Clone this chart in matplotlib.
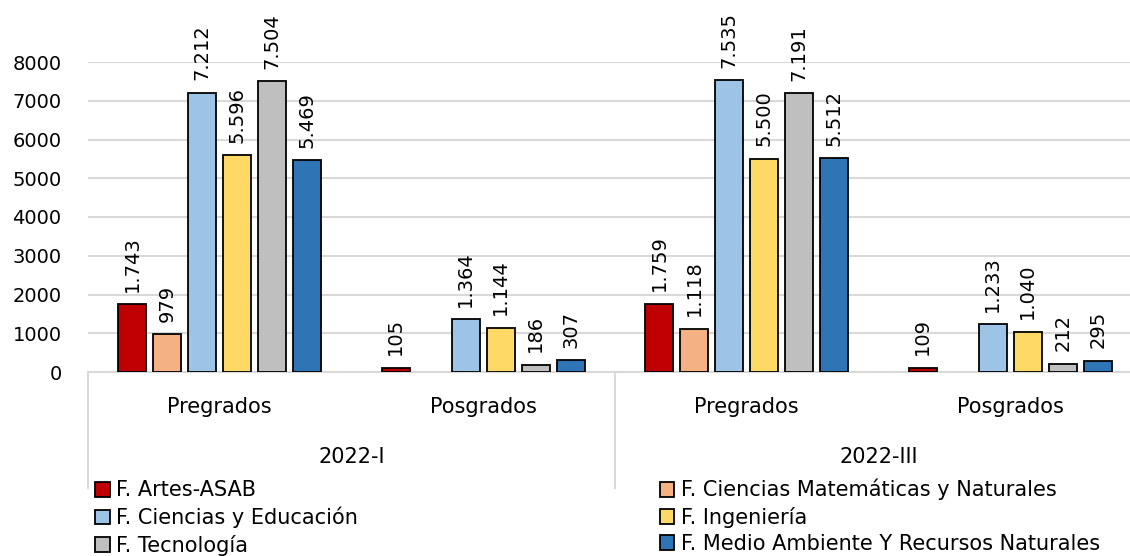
import matplotlib
matplotlib.use("Agg")
import matplotlib.pyplot as plt
from matplotlib.patches import Patch
import numpy as np

plt.rcParams['font.family'] = ['DejaVu Sans']

# ---- data ----
groups = ["Pregrados", "Posgrados", "Pregrados", "Posgrados"]
periods = ["2022-I", "2022-III"]
series_names = ["F. Artes-ASAB", "F. Ciencias Matemáticas y Naturales",
                "F. Ciencias y Educación", "F. Ingeniería",
                "F. Tecnología", "F. Medio Ambiente Y Recursos Naturales"]
artes = [1743, 105, 1759, 109]
ciencias_mat = [979, None, 1118, None]
ciencias_edu = [7212, 1364, 7535, 1233]
ingenieria = [5596, 1144, 5500, 1040]
tecnologia = [7504, 186, 7191, 212]
medio_amb = [5469, 307, 5512, 295]
values = [artes, ciencias_mat, ciencias_edu, ingenieria, tecnologia, medio_amb]
colors = ["#C00000", "#F4B183", "#9DC3E6", "#FFD966", "#BFBFBF", "#2E75B6"]
yticks = [0, 1000, 2000, 3000, 4000, 5000, 6000, 7000, 8000]

W, H = 1130, 556
fig = plt.figure(figsize=(W / 100, H / 100), dpi=100)
ax = fig.add_axes([88 / W, (H - 372) / H, 1054 / W, 310 / H])

x = np.arange(len(groups))
slot = 0.133
bw = 0.106
grid_c = "#D9D9D9"

for i, (vals, c) in enumerate(zip(values, colors)):
    off = (i - 2.5) * slot
    for xi, v in zip(x, vals):
        if v is None:
            continue
        ax.bar(xi + off, v, width=bw, color=c, edgecolor="black", linewidth=1.3, zorder=3)
        lbl = f"{v:,}".replace(",", ".")
        ax.annotate(lbl, (xi + off, v), xytext=(0, 9), textcoords="offset points",
                    rotation=90, ha="center", va="bottom", fontsize=14, annotation_clip=False)

ax.set_xlim(-0.5, len(groups) - 0.5)
ax.set_ylim(0, 8000)
ax.set_yticks(yticks)
ax.set_yticklabels([str(t) for t in yticks], fontsize=14)
ax.tick_params(axis="y", length=0, pad=19)
ax.set_xticks([])
ax.yaxis.grid(True, color=grid_c, linewidth=1.5, zorder=0)
for s in ["left", "right", "top"]:
    ax.spines[s].set_visible(False)
ax.spines["bottom"].set_color(grid_c)
ax.spines["bottom"].set_linewidth(1.5)

trans = ax.get_xaxis_transform()
for xi, g in zip(x, groups):
    ax.text(xi, -35 / 310, g, transform=trans, ha="center", va="center", fontsize=15)
for k, p in enumerate(periods):
    ax.text(2 * k + 0.5, -85 / 310, p, transform=trans, ha="center", va="center", fontsize=15)
for xb in [-0.5, 1.5]:
    ax.plot([xb, xb], [0, -116 / 310], transform=trans, color=grid_c, linewidth=1.5, clip_on=False)

order = [0, 2, 4, 1, 3, 5]
handles = [Patch(facecolor=colors[i], edgecolor="black", linewidth=1.3) for i in order]
labels = [series_names[i] for i in order]
fig.legend(handles, labels, ncol=2, frameon=False, fontsize=15,
           handlelength=0.7, handleheight=0.7, handletextpad=0.3,
           labelspacing=0.3, borderaxespad=0, borderpad=0, columnspacing=14.5,
           loc="upper left", bbox_to_anchor=(95 / W, 1 - 479 / H))

fig.savefig("out.png", dpi=100)
